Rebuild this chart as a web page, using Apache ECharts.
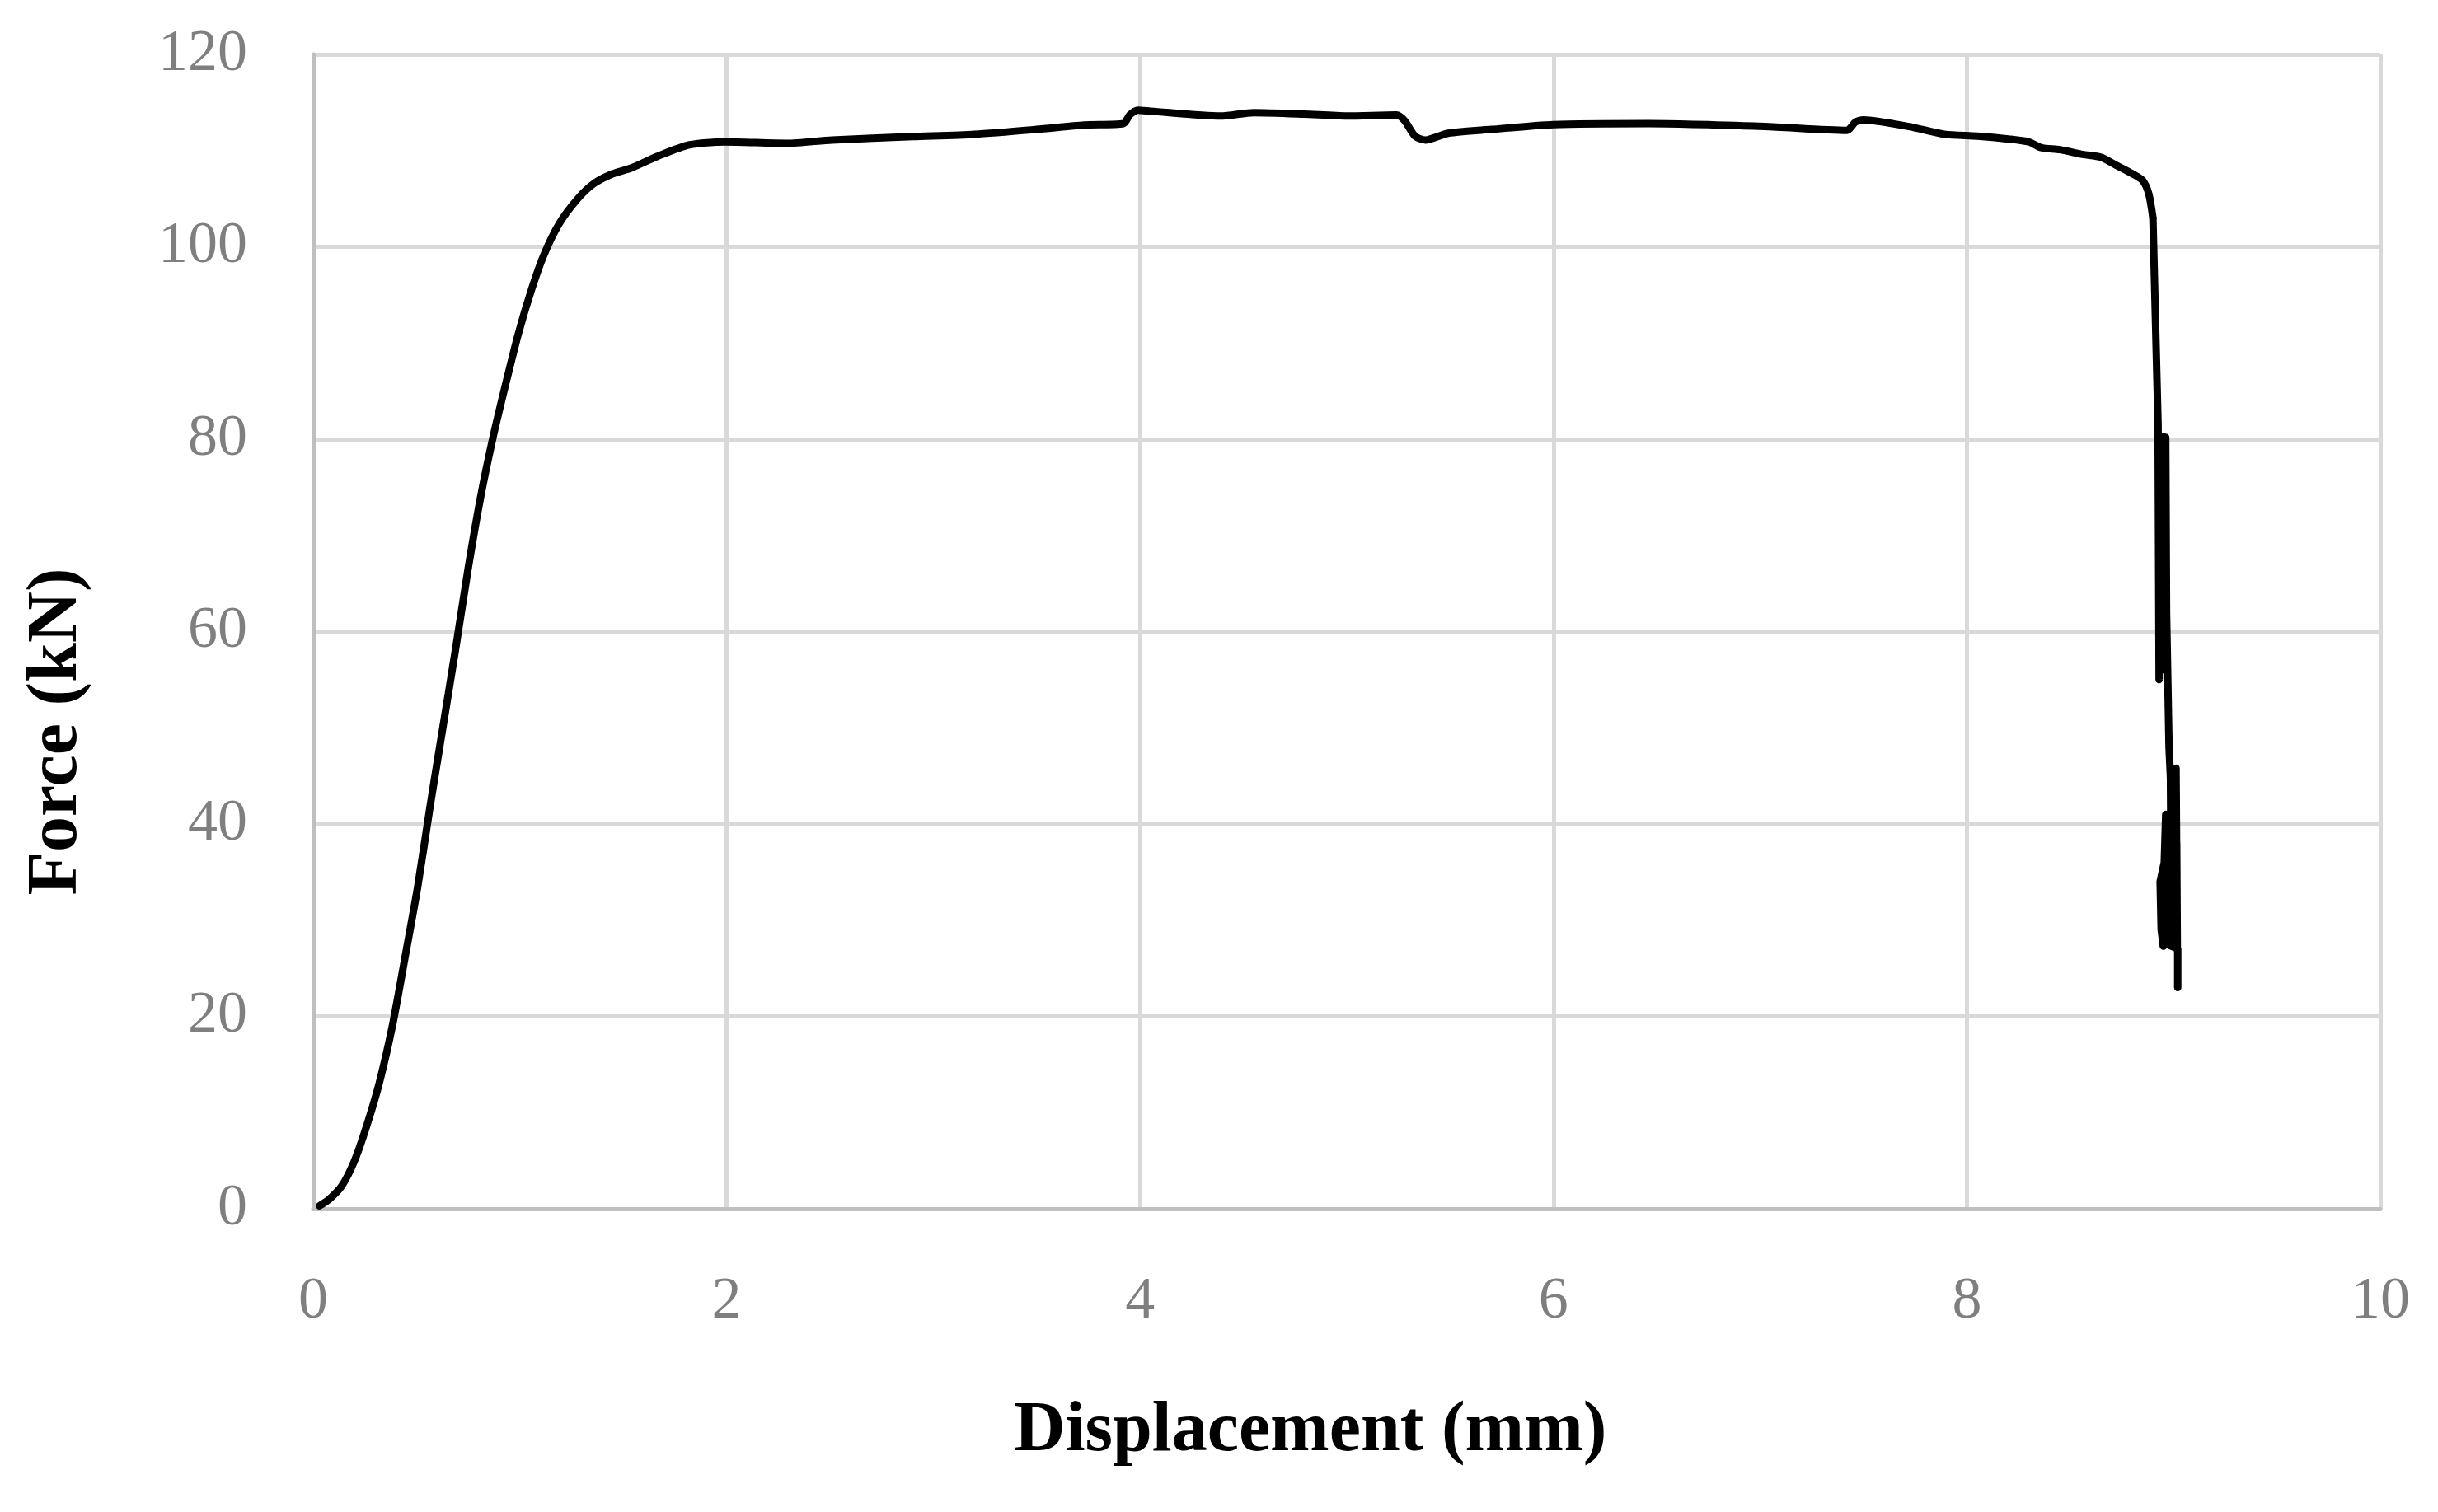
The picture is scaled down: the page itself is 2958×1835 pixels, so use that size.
<!DOCTYPE html>
<html>
<head>
<meta charset="utf-8">
<title>Force - Displacement</title>
<script src="https://cdn.jsdelivr.net/npm/echarts@6/dist/echarts.min.js"></script>
<style>
  html, body { margin: 0; padding: 0; background: #fff; }
  #chart { width: 2958px; height: 1835px; }
</style>
</head>
<body>
<div id="chart"></div>
<script>
// loading branch + plateau: displacement (mm) and force (kN)
const displacement = [
  0.03, 0.078, 0.139, 0.20, 0.26, 0.32, 0.383, 0.444, 0.505, 0.566,
  0.627, 0.689, 0.75, 0.81, 0.871, 0.932, 0.993, 1.054, 1.115, 1.19,
  1.28, 1.36, 1.45, 1.54, 1.665, 1.82, 1.99,
  2.29, 2.51, 2.9, 3.2, 3.5, 3.73, 3.92, 3.95, 3.99, 4.05,
  4.39, 4.55, 4.79, 5.0, 5.24, 5.28, 5.33, 5.38, 5.49, 5.7,
  6.0, 6.46, 7.02, 7.42, 7.46, 7.5, 7.72, 7.89, 8.05, 8.2,
  8.3, 8.36, 8.45, 8.56, 8.65, 8.72, 8.8, 8.85, 8.88, 8.9
];
const force = [
  0.3, 1.0, 2.4, 5.0, 8.7, 13.1, 19.0, 26.1, 33.4, 41.9,
  50.0, 58.2, 66.6, 74.0, 80.3, 85.8, 91.0, 95.4, 99.1, 102.4,
  105.0, 106.6, 107.6, 108.2, 109.4, 110.6, 110.9,
  110.75, 111.1, 111.45, 111.7, 112.2, 112.65, 112.8, 113.7, 114.2, 114.1,
  113.6, 113.95, 113.8, 113.6, 113.7, 113.1, 111.5, 111.1, 111.8, 112.2,
  112.7, 112.8, 112.5, 112.1, 112.95, 113.2, 112.5, 111.7, 111.5, 111.2,
  110.9, 110.3, 110.1, 109.6, 109.3, 108.5, 107.6, 106.9, 105.5, 103.0
];
// fracture: the force swings up and down while the displacement creeps on
const fractureDisp = [
  8.9, 8.925, 8.93, 8.937, 8.942, 8.95, 8.955, 8.962, 8.966, 8.972,
  8.978, 8.985, 8.99, 8.998, 9.005, 9.012, 9.018, 9.015, 8.962, 8.955,
  8.935, 8.94, 8.95, 8.96, 8.965, 9.0, 9.02, 9.02
];
const fractureForce = [
  103.0, 81.5, 55, 80.3, 56, 80.3, 56.5, 80.2, 62, 55,
  48, 44.8, 28, 45.5, 27.5, 45.8, 27, 38, 41, 36,
  34, 29, 27.3, 36, 27.5, 27.2, 27, 23
];
const xTicks = { min: 0, max: 10, interval: 2 };
const yTicks = { min: 0, max: 120, interval: 20 };

const curve = displacement.map((d, i) => [d, force[i]]);
const fracture = fractureDisp.map((d, i) => [d, fractureForce[i]]);

const chart = echarts.init(document.getElementById('chart'));
const labelStyle = { color: '#7f7f7f', fontFamily: 'Liberation Serif', fontSize: 72 };
const gridLine = { show: true, lineStyle: { color: '#d9d9d9', width: 5 } };
const axisLine = { show: true, lineStyle: { color: '#bfbfbf', width: 5 } };
const lineStyle = { color: '#000', width: 9, cap: 'round', join: 'round' };

chart.setOption({
  animation: false,
  backgroundColor: '#fff',
  grid: { left: 380, right: 70, top: 66, bottom: 368 },
  xAxis: {
    type: 'value',
    min: xTicks.min, max: xTicks.max, interval: xTicks.interval,
    axisLine, axisTick: { show: false }, splitLine: gridLine,
    axisLabel: Object.assign({ margin: 77 }, labelStyle)
  },
  yAxis: {
    type: 'value',
    min: yTicks.min, max: yTicks.max, interval: yTicks.interval,
    axisLine, axisTick: { show: false }, splitLine: gridLine,
    axisLabel: Object.assign({ margin: 80 }, labelStyle)
  },
  graphic: [
    {
      type: 'text', x: 1590, y: 1738,
      style: {
        text: 'Displacement (mm)', fill: '#000', align: 'center', verticalAlign: 'middle',
        fontFamily: 'Liberation Serif', fontWeight: 'bold', fontSize: 86
      }
    },
    {
      type: 'text', x: 70, y: 888, rotation: Math.PI / 2,
      style: {
        text: 'Force (kN)', fill: '#000', align: 'center', verticalAlign: 'middle',
        fontFamily: 'Liberation Serif', fontWeight: 'bold', fontSize: 86
      }
    }
  ],
  series: [
    {
      type: 'line',
      data: curve,
      showSymbol: false,
      smooth: 0.25,
      lineStyle
    },
    {
      type: 'line',
      data: fracture,
      showSymbol: false,
      lineStyle
    }
  ]
});
</script>
</body>
</html>
